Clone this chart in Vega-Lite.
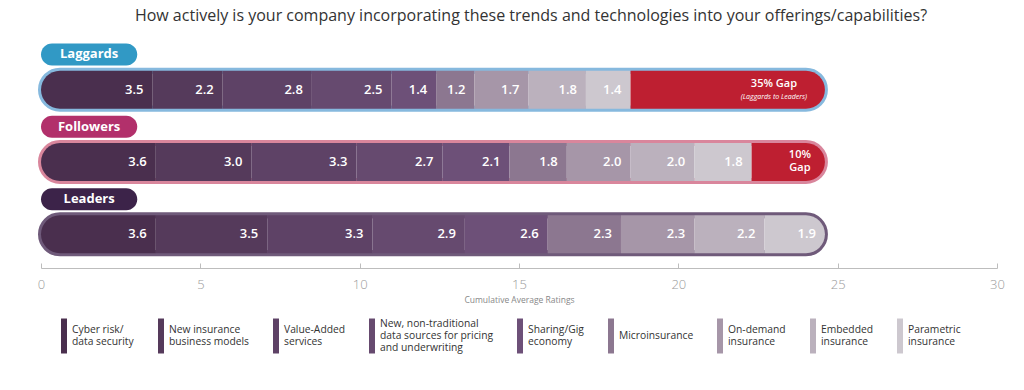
{
  "$schema": "https://vega.github.io/schema/vega-lite/v6.json",
  "width": 956,
  "height": 217,
  "autosize": {"type": "none"},
  "padding": {"left": 41, "top": 51, "right": 27, "bottom": 122},
  "background": "white",
  "title": {
    "text": "How actively is your company incorporating these trends and technologies into your offerings/capabilities?",
    "font": "Open Sans",
    "fontSize": 16,
    "fontWeight": "normal",
    "color": "#333333",
    "anchor": "middle",
    "dx": 12,
    "offset": 19
  },
  "data": {
    "values": [
      {"group": "Laggards", "category": "Cyber risk/\ndata security", "value": 3.5},
      {"group": "Laggards", "category": "New insurance\nbusiness models", "value": 2.2},
      {"group": "Laggards", "category": "Value-Added\nservices", "value": 2.8},
      {"group": "Laggards", "category": "New, non-traditional\ndata sources for pricing\nand underwriting", "value": 2.5},
      {"group": "Laggards", "category": "Sharing/Gig\neconomy", "value": 1.4},
      {"group": "Laggards", "category": "Microinsurance", "value": 1.2},
      {"group": "Laggards", "category": "On-demand\ninsurance", "value": 1.7},
      {"group": "Laggards", "category": "Embedded\ninsurance", "value": 1.8},
      {"group": "Laggards", "category": "Parametric\ninsurance", "value": 1.4},
      {"group": "Laggards", "category": "Gap", "value": 6.1, "note": "35% Gap", "subnote": "(Laggards to Leaders)"},
      {"group": "Followers", "category": "Cyber risk/\ndata security", "value": 3.6},
      {"group": "Followers", "category": "New insurance\nbusiness models", "value": 3.0},
      {"group": "Followers", "category": "Value-Added\nservices", "value": 3.3},
      {"group": "Followers", "category": "New, non-traditional\ndata sources for pricing\nand underwriting", "value": 2.7},
      {"group": "Followers", "category": "Sharing/Gig\neconomy", "value": 2.1},
      {"group": "Followers", "category": "Microinsurance", "value": 1.8},
      {"group": "Followers", "category": "On-demand\ninsurance", "value": 2.0},
      {"group": "Followers", "category": "Embedded\ninsurance", "value": 2.0},
      {"group": "Followers", "category": "Parametric\ninsurance", "value": 1.8},
      {"group": "Followers", "category": "Gap", "value": 2.3, "note": "10%\nGap"},
      {"group": "Leaders", "category": "Cyber risk/\ndata security", "value": 3.6},
      {"group": "Leaders", "category": "New insurance\nbusiness models", "value": 3.5},
      {"group": "Leaders", "category": "Value-Added\nservices", "value": 3.3},
      {"group": "Leaders", "category": "New, non-traditional\ndata sources for pricing\nand underwriting", "value": 2.9},
      {"group": "Leaders", "category": "Sharing/Gig\neconomy", "value": 2.6},
      {"group": "Leaders", "category": "Microinsurance", "value": 2.3},
      {"group": "Leaders", "category": "On-demand\ninsurance", "value": 2.3},
      {"group": "Leaders", "category": "Embedded\ninsurance", "value": 2.2},
      {"group": "Leaders", "category": "Parametric\ninsurance", "value": 1.9}
    ]
  },
  "transform": [
    {"stack": "value", "groupby": ["group"], "as": ["x0", "x1"]},
    {"joinaggregate": [{"op": "max", "field": "x1", "as": "tot"}], "groupby": ["group"]}
  ],
  "encoding": {
    "y": {
      "field": "group",
      "type": "nominal",
      "scale": {"domain": ["Laggards", "Followers", "Leaders"], "paddingInner": 0, "paddingOuter": 0},
      "axis": null
    }
  },
  "layer": [
    {
      "transform": [{"filter": "datum.x0 === 0"}],
      "mark": {"type": "bar", "height": 38, "yOffset": 2.5, "cornerRadius": 19, "fill": "white", "strokeWidth": 6},
      "encoding": {
        "x": {
          "field": "tot",
          "type": "quantitative",
          "scale": {"domain": [0, 30], "nice": false, "zero": true},
          "axis": {
            "values": [0, 5, 10, 15, 20, 25, 30],
            "title": "Cumulative Average Ratings",
            "grid": false,
            "labelFlush": false,
            "domainColor": "#bdbdbd",
            "tickColor": "#bdbdbd",
            "tickSize": -5,
            "labelPadding": 15,
            "labelFont": "Open Sans",
            "labelFontSize": 13,
            "labelFontWeight": 300,
            "labelColor": "#9a9a9a",
            "titleFont": "Open Sans",
            "titleFontSize": 8.5,
            "titleFontWeight": "normal",
            "titleColor": "#888888",
            "titlePadding": 4
          }
        },
        "stroke": {
          "field": "group",
          "type": "nominal",
          "scale": {"domain": ["Laggards", "Followers", "Leaders"], "range": ["#86b9de", "#d9869c", "#6f5a7a"]},
          "legend": null
        }
      }
    },
    {
      "mark": {"type": "bar", "height": 38, "yOffset": 2.5},
      "transform": [{"filter": "datum.x0 > 0 && datum.x1 < datum.tot"}],
      "encoding": {
        "x": {"field": "x0", "type": "quantitative"},
        "x2": {"field": "x1"},
        "color": {
          "field": "category",
          "type": "nominal",
          "scale": {
            "domain": ["Cyber risk/\ndata security", "New insurance\nbusiness models", "Value-Added\nservices", "New, non-traditional\ndata sources for pricing\nand underwriting", "Sharing/Gig\neconomy", "Microinsurance", "On-demand\ninsurance", "Embedded\ninsurance", "Parametric\ninsurance", "Gap"],
            "range": ["#4a2f4e", "#553a5b", "#5e4266", "#664a6f", "#6d5078", "#8c7790", "#a696a8", "#bbb1bd", "#cdc8cf", "#be1f31"]
          },
          "legend": {
            "values": ["Cyber risk/\ndata security", "New insurance\nbusiness models", "Value-Added\nservices", "New, non-traditional\ndata sources for pricing\nand underwriting", "Sharing/Gig\neconomy", "Microinsurance", "On-demand\ninsurance", "Embedded\ninsurance", "Parametric\ninsurance"],
            "title": null,
            "orient": "none",
            "legendX": 5.5,
            "legendY": 267,
            "direction": "horizontal",
            "columns": 9,
            "columnPadding": 9,
            "padding": 0,
            "symbolType": "M-0.17,-1H0.17V1H-0.17Z",
            "symbolSize": 1225,
            "symbolStrokeWidth": 0,
            "symbolOpacity": 1,
            "labelOffset": -9.5,
            "labelFont": "Open Sans",
            "labelFontSize": 10.3,
            "labelColor": "#333333",
            "labelBaseline": "middle",
            "labelLimit": 0,
            "labelExpr": "split(datum.label, '\\n')",
            "encoding": {
              "labels": {
                "dy": {"value": {"expr": "-(length(split(datum.label, '\\n')) - 1) * 6.2"}}
              }
            }
          }
        }
      }
    },
    {
      "mark": {"type": "bar", "height": 38, "yOffset": 2.5, "cornerRadiusTopLeft": 19, "cornerRadiusBottomLeft": 19},
      "transform": [{"filter": "datum.x0 === 0"}],
      "encoding": {
        "x": {"field": "x0", "type": "quantitative"},
        "x2": {"field": "x1"},
        "color": {"field": "category", "type": "nominal"}
      }
    },
    {
      "mark": {"type": "bar", "height": 38, "yOffset": 2.5, "cornerRadiusTopRight": 19, "cornerRadiusBottomRight": 19},
      "transform": [{"filter": "datum.x1 === datum.tot"}],
      "encoding": {
        "x": {"field": "x0", "type": "quantitative"},
        "x2": {"field": "x1"},
        "color": {"field": "category", "type": "nominal"}
      }
    },
    {
      "mark": {"type": "text", "align": "right", "baseline": "middle", "dx": -9, "dy": 2.5, "color": "white", "font": "Open Sans", "fontSize": 13, "fontWeight": 600},
      "transform": [{"filter": "datum.category !== 'Gap'"}],
      "encoding": {
        "x": {"field": "x1", "type": "quantitative"},
        "text": {"field": "value", "type": "quantitative", "format": ".1f"}
      }
    },
    {
      "mark": {"type": "text", "align": "center", "baseline": "middle", "dx": -51, "dy": -3, "color": "white", "font": "Open Sans", "fontSize": 11, "fontWeight": 600},
      "transform": [{"filter": "datum.category === 'Gap' && datum.group === 'Laggards'"}],
      "encoding": {
        "x": {"field": "x1", "type": "quantitative"},
        "text": {"field": "note", "type": "nominal"}
      }
    },
    {
      "mark": {"type": "text", "align": "center", "baseline": "middle", "dx": -51, "dy": 10, "color": "white", "font": "Open Sans", "fontSize": 7, "fontStyle": "italic"},
      "transform": [{"filter": "datum.category === 'Gap' && datum.group === 'Laggards'"}],
      "encoding": {
        "x": {"field": "x1", "type": "quantitative"},
        "text": {"field": "subnote", "type": "nominal"}
      }
    },
    {
      "mark": {"type": "text", "align": "center", "baseline": "middle", "dx": -25, "dy": -4.5, "color": "white", "font": "Open Sans", "fontSize": 11, "fontWeight": 600, "lineBreak": "\n", "lineHeight": 13},
      "transform": [{"filter": "datum.category === 'Gap' && datum.group === 'Followers'"}],
      "encoding": {
        "x": {"field": "x1", "type": "quantitative"},
        "text": {"field": "note", "type": "nominal"}
      }
    },
    {
      "mark": {"type": "bar", "height": 22, "yOffset": -32.7, "cornerRadius": 11},
      "transform": [{"filter": "datum.x0 === 0"}],
      "encoding": {
        "x": {"datum": 3.02, "type": "quantitative"},
        "fill": {
          "field": "group",
          "type": "nominal",
          "scale": {"domain": ["Laggards", "Followers", "Leaders"], "range": ["#3199c5", "#b2306b", "#3c2349"]},
          "legend": null
        }
      }
    },
    {
      "mark": {"type": "text", "align": "center", "baseline": "middle", "dy": -32.7, "color": "white", "font": "Open Sans", "fontSize": 13, "fontWeight": "bold"},
      "transform": [{"filter": "datum.x0 === 0"}],
      "encoding": {
        "x": {"datum": 1.51, "type": "quantitative"},
        "text": {"field": "group", "type": "nominal"}
      }
    }
  ],
  "config": {
    "view": {"stroke": null}
  }
}
